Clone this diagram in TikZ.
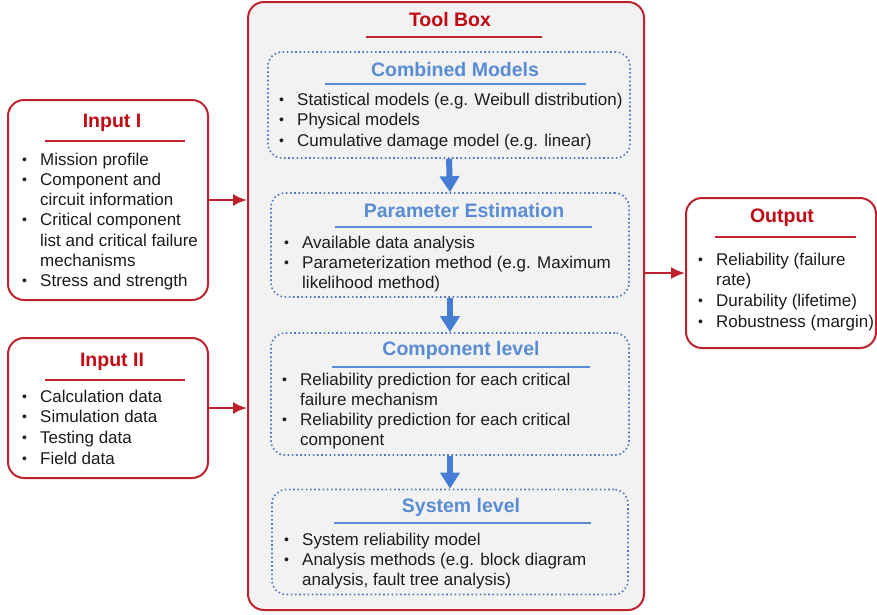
\documentclass[tikz,border=0pt]{standalone}
\usepackage{fontspec}
\setmainfont{Liberation Sans}
\usepackage{tikz}
\usetikzlibrary{arrows.meta,
                calc,
                positioning}
\definecolor{boxred}{RGB}{190,35,45}
\definecolor{titlered}{RGB}{192,10,20}
\definecolor{titleblue}{RGB}{88,140,212}
\definecolor{dotblue}{RGB}{80,120,192}
\definecolor{arrowblue}{RGB}{70,125,212}
\definecolor{tbgrey}{RGB}{242,242,242}
\definecolor{txtgrey}{RGB}{28,28,28}
\tikzstyle{redbox} = [draw=boxred, line width=2pt, rounded corners=16pt, fill=white, inner sep=0pt]
\tikzstyle{toolbox} = [draw=boxred, line width=2pt, rounded corners=16pt, fill=tbgrey, inner sep=0pt]
\tikzstyle{dotbox} = [draw=dotblue, line width=1.6pt, dash pattern=on 1.6pt off 2.6pt, rounded corners=14pt, inner sep=0pt]
\tikzstyle{redttl} = [font=\fontsize{19.5}{23}\selectfont\bfseries, text=titlered, inner sep=0pt]
\tikzstyle{bluettl} = [font=\fontsize{19.5}{23}\selectfont\bfseries, text=titleblue, inner sep=0pt]
\tikzstyle{itemtxt} = [font=\fontsize{17}{20}\selectfont, text=txtgrey, anchor=base west, inner sep=0pt]
\tikzstyle{redline} = [draw=boxred, line width=2.2pt]
\tikzstyle{blueline} = [draw=titleblue, line width=2.2pt]
\tikzstyle{redarrow} = [draw=boxred, line width=2.2pt, -{Latex[length=14pt,width=12pt]}]
\tikzstyle{bluearrow} = [draw=arrowblue, line width=6pt, -{Triangle[length=16pt,width=19pt]}]
\newcommand{\bitem}{\makebox[18pt][l]{\raisebox{1pt}{\fontsize{14}{16}\selectfont\textbullet}}}
\newcommand{\bcont}{\hspace*{18pt}}

\begin{document}
\begin{tikzpicture}[x=1pt,y=-1pt]
\useasboundingbox (0,0) rectangle (877,614);

% boxes
\node[toolbox, minimum width=396pt, minimum height=608pt] (toolbox) at (446,306) {};
\node[redbox, minimum width=200pt, minimum height=200pt] (input1) at (108,200) {};
\node[redbox, minimum width=200pt, minimum height=140pt] (input2) at (108,408) {};
\node[redbox, minimum width=190pt, minimum height=150pt] (output) at (781,273) {};
\node[dotbox, minimum width=362pt, minimum height=106pt] (combined) at (449,105) {};
\node[dotbox, minimum width=358pt, minimum height=104pt] (paramest) at (450,245) {};
\node[dotbox, minimum width=358pt, minimum height=122pt] (complevel) at (450,394) {};
\node[dotbox, minimum width=356pt, minimum height=105pt] (syslevel) at (450,542) {};

% titles
\node[redttl] (t-tool) at (450,20) {Tool Box};
\draw[redline] (366,37) -- (542,37);
\node[redttl] (t-in1) at (112,123) {Input I};
\draw[redline] (45,141) -- (185,141);
\node[redttl] (t-in2) at (112,362) {Input II};
\draw[redline] (45,380) -- (185,380);
\node[redttl] (t-out) at (782,218) {Output};
\draw[redline] (715,237) -- (856,237);
\node[bluettl] (t-comb) at (455,70) {Combined Models};
\draw[blueline] (325,84) -- (586,84);
\node[bluettl] (t-param) at (464,211) {Parameter Estimation};
\draw[blueline] (335,227) -- (592,227);
\node[bluettl] (t-comp) at (461,350) {Component level};
\draw[blueline] (332,367) -- (590,367);
\node[bluettl] (t-sys) at (461,507) {System level};
\draw[blueline] (334,523) -- (591,523);

% bullet lists
\foreach \ln [count=\i from 0] in {{\bitem Mission profile},{\bitem Component and},{\bcont circuit information},
    {\bitem Critical component},{\bcont list and critical failure},{\bcont mechanisms},{\bitem Stress and strength}}
  \node[itemtxt] (in1-\i) at (22,165+20.3*\i) {\ln};
\foreach \ln [count=\i from 0] in {{\bitem Calculation data},{\bitem Simulation data},{\bitem Testing data},{\bitem Field data}}
  \node[itemtxt] (in2-\i) at (22,402+20.7*\i) {\ln};
\foreach \ln [count=\i from 0] in {{\bitem Reliability (failure},{\bcont rate)},{\bitem Durability (lifetime)},{\bitem Robustness (margin)}}
  \node[itemtxt] (out-\i) at (698,265+20.7*\i) {\ln};
\foreach \ln [count=\i from 0] in {{\bitem Statistical models (e.g. Weibull distribution)},{\bitem Physical models},
    {\bitem Cumulative damage model (e.g. linear)}}
  \node[itemtxt] (comb-\i) at (279,105+20.5*\i) {\ln};
\foreach \ln [count=\i from 0] in {{\bitem Available data analysis},{\bitem Parameterization method (e.g. Maximum},{\bcont likelihood method)}}
  \node[itemtxt] (param-\i) at (284,248+20*\i) {\ln};
\foreach \ln [count=\i from 0] in {{\bitem Reliability prediction for each critical},{\bcont failure mechanism},
    {\bitem Reliability prediction for each critical},{\bcont component}}
  \node[itemtxt] (comp-\i) at (282,385+20.3*\i) {\ln};
\foreach \ln [count=\i from 0] in {{\bitem System reliability model},{\bitem Analysis methods (e.g. block diagram},{\bcont analysis, fault tree analysis)}}
  \node[itemtxt] (sys-\i) at (284,545+20*\i) {\ln};

% arrows
\draw[redarrow] (input1.east) -- (input1.east -| toolbox.west);
\draw[redarrow] (input2.east) -- (input2.east -| toolbox.west);
\draw[redarrow] (toolbox.east |- output.west) -- (output.west);
\draw[bluearrow] (combined.south) -- (paramest.north);
\draw[bluearrow] (paramest.south) -- (complevel.north);
\draw[bluearrow] (complevel.south) -- (syslevel.north);
\end{tikzpicture}
\end{document}
